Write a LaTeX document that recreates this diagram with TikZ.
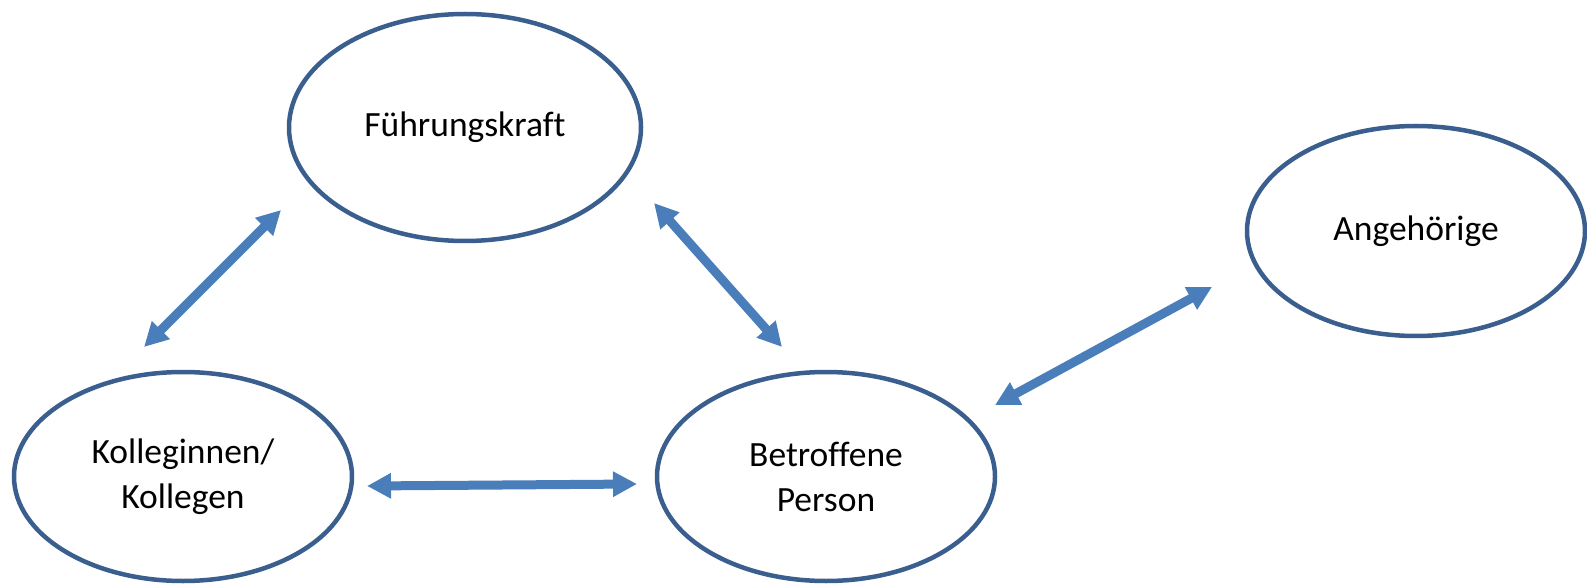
\documentclass[tikz,border=0pt]{standalone}
\usepackage{fontspec}
\setmainfont{Carlito}[Ligatures=NoCommon]
\usetikzlibrary{shapes.geometric,arrows.meta}
\definecolor{rimblue}{HTML}{3A5F8F}
\definecolor{arrowblue}{HTML}{4A7EBB}

\begin{document}
\begin{tikzpicture}[x=1pt,y=-1pt,
  person/.style={ellipse,draw=rimblue,line width=4.5pt,inner sep=0pt,
    minimum width=338pt,minimum height=209pt,align=center,
    font=\fontsize{35.5}{45}\selectfont},
  link/.style={arrowblue,line width=9pt,
    {Triangle[length=24pt,width=24pt]}-{Triangle[length=24pt,width=24pt]}}]
\useasboundingbox (0,0) rectangle (1587,585);

% ellipses
\node[person,minimum width=352pt,minimum height=227pt] (fk) at (465,127.5) {Führungskraft};
\node[person] (kol) at (183,476.5) {Kolleginnen/\\Kollegen};
\node[person] (bp) at (826,476.5) {Betroffene\\Person};
\node[person,minimum height=210pt] (ang) at (1416,231) {Angehörige};

% arrow ends
\coordinate (kol-fk) at (144,347);
\coordinate (fk-kol) at (281,210);
\coordinate (fk-bp) at (654,203);
\coordinate (bp-fk) at (782,347);
\coordinate (kol-bp) at (367,486);
\coordinate (bp-kol) at (637,484);
\coordinate (bp-ang) at (995,405);
\coordinate (ang-bp) at (1212,287);

% arrows
\draw[link] (kol-fk) -- (fk-kol);
\draw[link] (fk-bp) -- (bp-fk);
\draw[link] (kol-bp) -- (bp-kol);
\draw[link] (bp-ang) -- (ang-bp);
\end{tikzpicture}
\end{document}
